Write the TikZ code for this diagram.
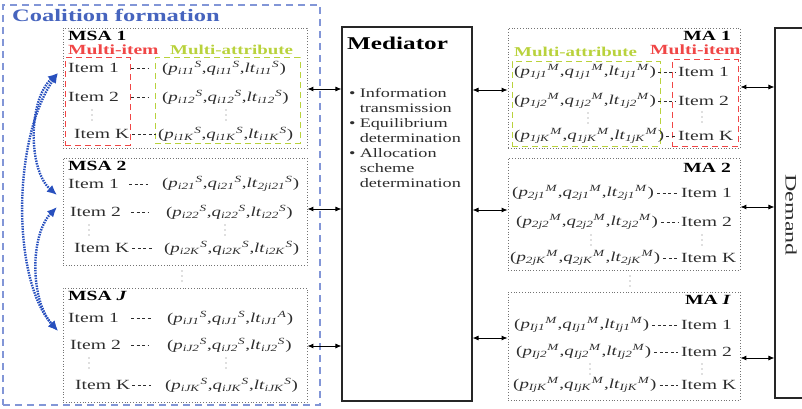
\documentclass[tikz,border=0pt]{standalone}
\usepackage{fontspec}
\setmainfont{Liberation Serif}
\usetikzlibrary{arrows.meta,calc}
\newcommand\hs[1]{\scalebox{1.4}[1]{#1}}
\newcommand\tq[3]{\textit{#1}\textsubscript{\textit{#2}}\textsuperscript{\textit{#3}}}
\definecolor{cfblue}{RGB}{70,100,190}
\definecolor{cfdash}{RGB}{130,150,215}
\definecolor{arblue}{RGB}{40,80,190}
\definecolor{mired}{RGB}{240,70,70}
\definecolor{magreen}{RGB}{185,210,60}
\definecolor{txtgray}{RGB}{45,45,45}
\begin{document}
\begin{tikzpicture}[x=1pt,y=-1pt,
  agentbox/.style={draw=black!55, dotted, line width=0.8pt},
  redbox/.style={draw=mired, dashed, dash pattern=on 6pt off 4pt, line width=1pt},
  greenbox/.style={draw=magreen, dashed, dash pattern=on 6pt off 4pt, line width=1pt},
  tx/.style={anchor=west, inner sep=0pt, text=txtgray, font=\fontsize{14}{16}\selectfont},
  tup/.style={anchor=west, inner sep=0pt, text=txtgray, font=\fontsize{13.5}{16}\selectfont},
  hd/.style={anchor=west, inner sep=0pt, text=black, font=\fontsize{14}{16}\selectfont\bfseries},
  vd/.pic={\fill[black!55] (0,-5) circle (0.7pt) (0,0) circle (0.7pt) (0,5) circle (0.7pt);},
  link/.style={draw=txtgray, dash pattern=on 3pt off 2.5pt, line width=0.7pt},
  biarrow/.style={{Latex[length=6pt,width=5pt]}-{Latex[length=6pt,width=5pt]}, line width=0.9pt, black},
  coal/.style={{Latex[length=10pt,width=9pt]}-{Latex[length=10pt,width=9pt]}, draw=arblue, line width=2.4pt, dash pattern=on 1.5pt off 1.1pt}
]
\useasboundingbox (0,0) rectangle (802,409);

% ---------- Coalition formation ----------
\node[draw=cfdash, dash pattern=on 7pt off 5pt, line width=1.3pt, minimum width=317pt, minimum height=400pt] (coal) at (161.5,205) {};
\node[anchor=west, inner sep=0pt, text=cfblue, font=\fontsize{17.5}{17}\selectfont\bfseries] (ctitle) at (12,15) {\hs{Coalition formation}};

% MSA 1
\node[agentbox, minimum width=244pt, minimum height=120pt] (msa1) at (185,88) {};
\node[hd] (msa1t) at (68,35.5) {\hs{MSA 1}};
\node[hd, text=mired] (mi1) at (68,50) {\hs{Multi-item}};
\node[hd, text=magreen, font=\fontsize{13.5}{16}\selectfont\bfseries] (ma1l) at (170,50) {\hs{Multi-attribute}};
\node[redbox, minimum width=65pt, minimum height=87pt] (r1) at (97.5,101.5) {};
\node[greenbox, minimum width=145pt, minimum height=85pt] (g1) at (227.5,100.5) {};
\node[tx] (a11) at (68,68) {\hs{Item 1}};
\node[tx] (a12) at (68,97) {\hs{Item 2}};
\pic at (92,115) {vd};
\node[tx] (a1k) at (74,134) {\hs{Item K}};
\node[tup] (b11) at (162,68) {\hs{(\tq{p}{i11}{S},\tq{q}{i11}{S},\tq{lt}{i11}{S})}};
\node[tup] (b12) at (162,97) {\hs{(\tq{p}{i12}{S},\tq{q}{i12}{S},\tq{lt}{i12}{S})}};
\pic at (226,115) {vd};
\node[tup] (b1k) at (158,134) {\hs{(\tq{p}{i1K}{S},\tq{q}{i1K}{S},\tq{lt}{i1K}{S})}};
\draw[link, shorten <=12pt, shorten >=14pt] (a11.east) -- (b11.west |- a11.east);
\draw[link, shorten <=12pt, shorten >=14pt] (a12.east) -- (b12.west |- a12.east);
\draw[link, shorten <=3pt, shorten >=2pt] (a1k.east) -- (b1k.west |- a1k.east);

% MSA 2
\node[agentbox, minimum width=244pt, minimum height=107pt] (msa2) at (185,211.5) {};
\node[hd] (msa2t) at (68,166) {\hs{MSA 2}};
\node[tx] (a21) at (68,184) {\hs{Item 1}};
\node[tx] (a22) at (70,212) {\hs{Item 2}};
\pic at (89,230) {vd};
\node[tx] (a2k) at (74,248) {\hs{Item K}};
\node[tup] (b21) at (162,184) {\hs{(\tq{p}{i21}{S},\tq{q}{i21}{S},\tq{lt}{2ji21}{S})}};
\node[tup] (b22) at (166,212) {\hs{(\tq{p}{i22}{S},\tq{q}{i22}{S},\tq{lt}{i22}{S})}};
\pic at (225,230) {vd};
\node[tup] (b2k) at (164,248) {\hs{(\tq{p}{i2K}{S},\tq{q}{i2K}{S},\tq{lt}{i2K}{S})}};
\draw[link, shorten <=10pt, shorten >=14pt] (a21.east) -- (b21.west |- a21.east);
\draw[link, shorten <=10pt, shorten >=18pt] (a22.east) -- (b22.west |- a22.east);
\draw[link, shorten <=3pt, shorten >=12pt] (a2k.east) -- (b2k.west |- a2k.east);

\pic at (182,276) {vd};

% MSA J
\node[agentbox, minimum width=244pt, minimum height=114pt] (msaj) at (185,345) {};
\node[hd] (msajt) at (68,296) {\hs{MSA \textit{J}}};
\node[tx] (aj1) at (68,318) {\hs{Item 1}};
\node[tx] (aj2) at (70,345) {\hs{Item 2}};
\pic at (89,363) {vd};
\node[tx] (ajk) at (75,385) {\hs{Item K}};
\node[tup] (bj1) at (167,318) {\hs{(\tq{p}{iJ1}{S},\tq{q}{iJ1}{S},\tq{lt}{iJ1}{A})}};
\node[tup] (bj2) at (167,345) {\hs{(\tq{p}{iJ2}{S},\tq{q}{iJ2}{S},\tq{lt}{iJ2}{S})}};
\pic at (226,363) {vd};
\node[tup] (bjk) at (165,385) {\hs{(\tq{p}{iJK}{S},\tq{q}{iJK}{S},\tq{lt}{iJK}{S})}};
\draw[link, shorten <=12pt, shorten >=16pt] (aj1.east) -- (bj1.west |- aj1.east);
\draw[link, shorten <=10pt, shorten >=18pt] (aj2.east) -- (bj2.west |- aj2.east);
\draw[link, shorten <=2pt, shorten >=14pt] (ajk.east) -- (bjk.west |- ajk.east);

% coalition arrows
\coordinate (c1) at (58,73);
\coordinate (c2a) at (57,195);
\coordinate (c2b) at (57,207);
\coordinate (c3) at (58,331);
\draw[coal] (c1) .. controls (28,100) and (28,170) .. (c2a);
\draw[coal] (c1) .. controls (12,140) and (12,280) .. (c3);
\draw[coal] (c2b) .. controls (30,235) and (30,300) .. (c3);

% ---------- Mediator ----------
\node[draw=black!85, line width=1.1pt, minimum width=130pt, minimum height=374pt] (med) at (407,214) {};
\node[anchor=west, inner sep=0pt, font=\fontsize{18}{18}\selectfont\bfseries] (medt) at (347,43) {\hs{Mediator}};
\node[anchor=north west, inner sep=0pt, text=txtgray, font=\fontsize{13}{14.9}\selectfont] (medl) at (349,87) {\hs{\begin{tabular}{@{}l@{\hspace{3pt}}l@{}}
\textbullet & Information\\ & transmission\\
\textbullet & Equilibrium\\ & determination\\
\textbullet & Allocation\\ & scheme\\ & determination\end{tabular}}};

\draw[biarrow] (msa1.east |- 0,89) -- (med.west |- 0,89);
\draw[biarrow] (msa2.east |- 0,209) -- (med.west |- 0,209);
\draw[biarrow] (msaj.east |- 0,346) -- (med.west |- 0,346);

% ---------- MA 1 ----------
\node[agentbox, minimum width=232pt, minimum height=120pt] (ma1) at (624,88) {};
\node[hd, anchor=east] (ma1t) at (731,35.5) {\hs{MA 1}};
\node[hd, text=magreen, font=\fontsize{13.5}{16}\selectfont\bfseries] (mat1) at (514,52) {\hs{Multi-attribute}};
\node[hd, text=mired] (mit1) at (650,50) {\hs{Multi-item}};
\node[greenbox, minimum width=148pt, minimum height=84pt] (g2) at (586,104) {};
\node[redbox, minimum width=66pt, minimum height=86pt] (r2) at (705,103) {};
\node[tup] (c11) at (514,72) {\hs{(\tq{p}{1j1}{M},\tq{q}{1j1}{M},\tq{lt}{1j1}{M})}};
\node[tup] (c12) at (514,101) {\hs{(\tq{p}{1j2}{M},\tq{q}{1j2}{M},\tq{lt}{1j2}{M})}};
\pic at (588,118) {vd};
\node[tup] (c1k) at (514,136) {\hs{(\tq{p}{1jK}{M},\tq{q}{1jK}{M},\tq{lt}{1jK}{M})}};
\node[tx] (d11) at (678,72) {\hs{Item 1}};
\node[tx] (d12) at (678,101) {\hs{Item 2}};
\pic at (702,117) {vd};
\node[tx] (d1k) at (678,136) {\hs{Item K}};
\draw[link, shorten <=2pt, shorten >=2pt] (c11.east) -- (d11.west |- c11.east);
\draw[link, shorten <=2pt, shorten >=2pt] (c12.east) -- (d12.west |- c12.east);
\draw[link, shorten <=2pt, shorten >=2pt] (c1k.east) -- (d1k.west |- c1k.east);

% MA 2
\node[agentbox, minimum width=232pt, minimum height=112pt] (ma2) at (624,214) {};
\node[hd, anchor=east] (ma2t) at (731,168) {\hs{MA 2}};
\node[tup] (c21) at (512,193) {\hs{(\tq{p}{2j1}{M},\tq{q}{2j1}{M},\tq{lt}{2j1}{M})}};
\node[tup] (c22) at (516,222) {\hs{(\tq{p}{2j2}{M},\tq{q}{2j2}{M},\tq{lt}{2j2}{M})}};
\pic at (591,240) {vd};
\node[tup] (c2k) at (510,258) {\hs{(\tq{p}{2jK}{M},\tq{q}{2jK}{M},\tq{lt}{2jK}{M})}};
\node[tx] (d21) at (681,193) {\hs{Item 1}};
\node[tx] (d22) at (681,222) {\hs{Item 2}};
\pic at (702,240) {vd};
\node[tx] (d2k) at (681,258) {\hs{Item K}};
\draw[link, shorten <=3pt, shorten >=3pt] (c21.east) -- (d21.west |- c21.east);
\draw[link, shorten <=3pt, shorten >=3pt] (c22.east) -- (d22.west |- c22.east);
\draw[link, shorten <=3pt, shorten >=3pt] (c2k.east) -- (d2k.west |- c2k.east);

\pic at (630,281) {vd};

% MA I
\node[agentbox, minimum width=232pt, minimum height=108pt] (mai) at (624,346) {};
\node[hd, anchor=east] (mait) at (731,300) {\hs{MA \textit{I}}};
\node[tup] (ci1) at (514,325) {\hs{(\tq{p}{Ij1}{M},\tq{q}{Ij1}{M},\tq{lt}{Ij1}{M})}};
\node[tup] (ci2) at (516,352) {\hs{(\tq{p}{Ij2}{M},\tq{q}{Ij2}{M},\tq{lt}{Ij2}{M})}};
\pic at (590,369) {vd};
\node[tup] (cik) at (513,385) {\hs{(\tq{p}{IjK}{M},\tq{q}{IjK}{M},\tq{lt}{IjK}{M})}};
\node[tx] (di1) at (681,325) {\hs{Item 1}};
\node[tx] (di2) at (681,352) {\hs{Item 2}};
\pic at (702,369) {vd};
\node[tx] (dik) at (681,385) {\hs{Item K}};
\draw[link, shorten <=3pt, shorten >=3pt] (ci1.east) -- (di1.west |- ci1.east);
\draw[link, shorten <=3pt, shorten >=3pt] (ci2.east) -- (di2.west |- ci2.east);
\draw[link, shorten <=3pt, shorten >=3pt] (cik.east) -- (dik.west |- cik.east);

\draw[biarrow] (med.east |- 0,90) -- (ma1.west |- 0,90);
\draw[biarrow] (med.east |- 0,210) -- (ma2.west |- 0,210);
\draw[biarrow] (med.east |- 0,338) -- (mai.west |- 0,338);

% ---------- Demand ----------
\node[draw=black!85, line width=1.1pt, minimum width=60pt, minimum height=370pt] (dem) at (805,213) {};
\node[rotate=-90, inner sep=0pt, text=txtgray, font=\fontsize{16}{16}\selectfont] (demt) at (791,215) {\scalebox{1.5}[1]{Demand}};

\draw[biarrow] (ma1.east |- 0,87) -- (dem.west |- 0,87);
\draw[biarrow] (ma2.east |- 0,207) -- (dem.west |- 0,207);
\draw[biarrow] (mai.east |- 0,358) -- (dem.west |- 0,358);
\end{tikzpicture}
\end{document}
